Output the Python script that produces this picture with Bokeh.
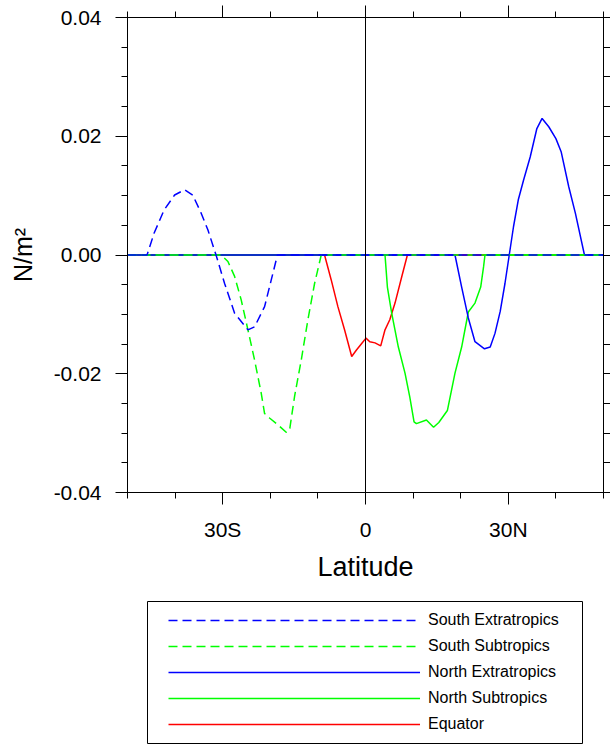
from bokeh.plotting import figure
from bokeh.layouts import column
from bokeh.models import (Range1d, FixedTicker, LinearAxis, Span, Legend,
                          LegendItem, BoxAnnotation)
from bokeh.embed import file_html
from bokeh.resources import INLINE

# ---------------- data ----------------
lat_s_extra = [-50, -45.9, -44.4, -42.3, -40.1, -38.0, -36.3, -34.5, -33.1, -31.4,
               -29.6, -27.5, -24.7, -23.3, -21.2, -19.8, -18.5, 50]
val_s_extra = [0, 0, 0.0037, 0.0076, 0.0101, 0.0110, 0.0101, 0.0070, 0.0042, 0,
               -0.0048, -0.0098, -0.0126, -0.0121, -0.0087, -0.0042, 0, 0]

lat_s_sub = [-50, -30.3, -28.9, -27.5, -26.1, -24.7, -23.3, -21.9, -21.2, -20.1,
             -18.4, -16.6, -15.9, -14.9, -13.5, -12.1, -10.7, -9.3, 50]
val_s_sub = [0, 0, -0.0011, -0.0036, -0.0076, -0.0126, -0.0177, -0.0233, -0.0267, -0.0275,
             -0.0286, -0.0299, -0.0292, -0.0238, -0.0177, -0.0109, -0.0048, 0, 0]

lat_n_extra = [-50, 18.8, 20.2, 21.6, 23.0, 25.0, 26.2, 27.2, 28.3, 29.3, 30.2, 31.1,
               32.1, 33.2, 34.6, 36.0, 37.1, 38.5, 40.0, 41.1, 42.7, 44.1, 46.0, 50]
val_n_extra = [0, 0, -0.0054, -0.0106, -0.0146, -0.0158, -0.0155, -0.0132, -0.0095, -0.0048, 0, 0.0048,
               0.0093, 0.0126, 0.0165, 0.0213, 0.0230, 0.0216, 0.0196, 0.0174, 0.0115, 0.0070, 0, 0]

lat_n_sub = [-50, 4.1, 4.6, 5.5, 6.9, 8.3, 9.3, 10.2, 10.7, 12.8, 14.3, 15.4, 17.2,
             18.8, 20.2, 21.6, 23.0, 24.2, 24.8, 25.1, 50]
val_n_sub = [0, 0, -0.0054, -0.0098, -0.0155, -0.0199, -0.0239, -0.0281, -0.0284, -0.0278, -0.0290, -0.0282, -0.0262,
             -0.0199, -0.0155, -0.0096, -0.0081, -0.0054, -0.0020, 0, 0]

lat_equator = [-50, -8.6, -7.2, -5.8, -4.4, -2.9, -1.9, -0.8, 0.1, 0.9, 2.0, 3.2,
               4.1, 5.1, 6.2, 7.6, 8.8, 50]
val_equator = [0, 0, -0.0042, -0.0087, -0.0126, -0.0171, -0.0160, -0.0149, -0.0140, -0.0146, -0.0148, -0.0153,
               -0.0126, -0.0109, -0.0081, -0.0037, 0, 0]

series_names = ["South Extratropics", "South Subtropics", "North Extratropics",
                "North Subtropics", "Equator"]

x_major = [-30, 0, 30]
x_major_labels = ["30S", "0", "30N"]
x_minor = [-50, -40, -20, -10, 10, 20, 40, 50]
y_major = [-0.04, -0.02, 0.0, 0.02, 0.04]
y_major_labels = ["-0.04", "-0.02", "0.00", "0.02", "0.04"]
y_minor = [-0.035, -0.03, -0.025, -0.015, -0.01, -0.005,
           0.005, 0.01, 0.015, 0.025, 0.03, 0.035]

FONT = "Liberation Sans"

# ---------------- main figure ----------------
p = figure(width=610, height=590,
           x_range=Range1d(-50, 50), y_range=Range1d(-0.04, 0.04),
           output_backend="svg", toolbar_location=None,
           min_border_left=127, min_border_right=7,
           min_border_top=17, min_border_bottom=98,
           x_axis_label="Latitude", y_axis_label="N/m²")
p.grid.visible = False
p.outline_line_color = "black"
p.outline_line_width = 1
p.background_fill_color = "white"
p.border_fill_color = "white"

xt = FixedTicker(ticks=x_major, minor_ticks=x_minor)
yt = FixedTicker(ticks=y_major, minor_ticks=y_minor)

xax = p.xaxis[0]
yax = p.yaxis[0]
xax.ticker = xt
yax.ticker = yt
xax.major_label_overrides = {t: l for t, l in zip(x_major, x_major_labels)}
yax.major_label_overrides = {t: l for t, l in zip(y_major, y_major_labels)}

top = LinearAxis(ticker=xt)
right = LinearAxis(ticker=yt)
p.add_layout(top, "above")
p.add_layout(right, "right")

for ax in (xax, yax, top, right):
    ax.axis_line_color = "black"
    ax.major_tick_line_color = "black"
    ax.minor_tick_line_color = "black"
    ax.major_tick_in = 0
    ax.minor_tick_in = 0
    ax.major_tick_out = 12
    ax.minor_tick_out = 6
    ax.major_label_text_font = FONT
    ax.major_label_text_color = "black"
    ax.axis_label_text_font = FONT
    ax.axis_label_text_font_style = "normal"
    ax.axis_label_text_color = "black"

for ax in (top, right):
    ax.major_label_text_font_size = "0px"
    ax.major_label_standoff = 0
    ax.major_label_overrides = {t: "" for t in (x_major if ax is top else y_major)}
right.major_tick_out = 7
right.minor_tick_out = 7

xax.major_label_text_font_size = "21px"
xax.major_label_standoff = 13
xax.axis_label_text_font_size = "27px"
xax.axis_label_standoff = 8

yax.major_label_text_font_size = "21px"
yax.major_label_standoff = 14
yax.axis_label_text_font_size = "25px"
yax.axis_label_standoff = 14

# reference line at y = 0 (beneath the curves)
p.add_layout(Span(location=0, dimension="width", line_color="black",
                  line_width=1, level="underlay"))

colors = {"South Extratropics": "#0000ff", "South Subtropics": "#00ff00",
          "North Extratropics": "#0000ff", "North Subtropics": "#00ff00",
          "Equator": "#ff0000"}
dashes = {"South Extratropics": "9 5", "South Subtropics": "9 5",
          "North Extratropics": "solid", "North Subtropics": "solid",
          "Equator": "solid"}
data = {"South Extratropics": (lat_s_extra, val_s_extra),
        "South Subtropics": (lat_s_sub, val_s_sub),
        "North Extratropics": (lat_n_extra, val_n_extra),
        "North Subtropics": (lat_n_sub, val_n_sub),
        "Equator": (lat_equator, val_equator)}

for name in reversed(series_names):
    xs, ys = data[name]
    p.line(xs, ys, line_color=colors[name], line_width=1.5,
           line_dash=dashes[name])

# reference line at x = 0
p.add_layout(Span(location=0, dimension="height", line_color="black",
                  line_width=1))

# ---------------- legend panel (screen-pixel coordinates) ----------------
lg = figure(width=610, height=154,
            x_range=Range1d(127, 603), y_range=Range1d(744, 590),
            output_backend="svg", toolbar_location=None,
            x_axis_location=None, y_axis_location=None,
            min_border_left=127, min_border_right=7,
            min_border_top=0, min_border_bottom=0)
lg.grid.visible = False
lg.outline_line_color = None
lg.border_fill_color = "white"
lg.background_fill_color = "white"

# the series drawn again here only to feed the legend (they fall outside this panel's range)
legend_renderers = {}
for name in series_names:
    xs, ys = data[name]
    legend_renderers[name] = lg.line(xs, ys, line_color=colors[name], line_width=1.5,
                                     line_dash=dashes[name])

lg.add_layout(BoxAnnotation(left=147, right=582, top=601, bottom=743,
                            fill_alpha=0, line_color="black", line_width=1,
                            line_alpha=1))

legend = Legend(items=[LegendItem(label=n, renderers=[legend_renderers[n]]) for n in series_names],
                location=(41, 10), padding=0, spacing=6, margin=0,
                glyph_width=252, glyph_height=20, label_height=20,
                label_standoff=8, label_text_font=FONT,
                label_text_font_size="16px", label_text_color="black",
                border_line_alpha=0, background_fill_alpha=0)
lg.add_layout(legend)

layout = column(p, lg, spacing=0)
open("out.html", "w").write(file_html(layout, INLINE))
